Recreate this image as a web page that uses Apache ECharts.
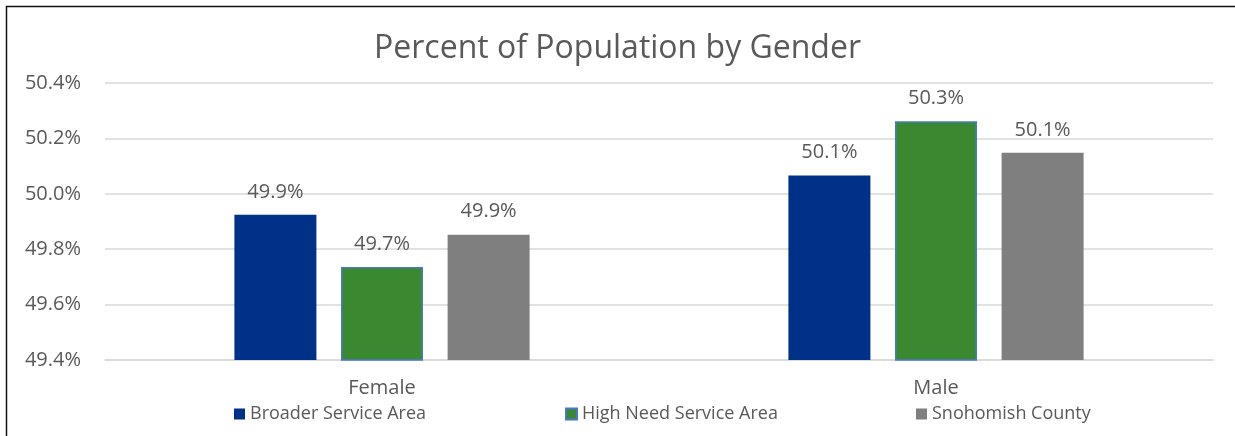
<!DOCTYPE html>
<html lang="en">
<head>
    <meta charset="UTF-8">
    <title>Percent of Population by Gender</title>
    <script src="https://cdn.jsdelivr.net/npm/echarts@6/dist/echarts.min.js"></script>
    <style>
        body { margin: 0; padding: 0; background: #fff; }
        #main { width: 1235px; height: 436px; }
    </style>
</head>
<body>
    <div id="main"></div>
    <script type="text/javascript">
        // data
        var categories = ['Female', 'Male'];
        var seriesNames = ['Broader Service Area', 'High Need Service Area', 'Snohomish County'];
        var broader = [49.924, 50.066];
        var highNeed = [49.736, 50.262];
        var snohomish = [49.852, 50.148];
        var yTicks = { min: 49.4, max: 50.4, step: 0.2 };

        var txt = '#595959';
        var font = 'Open Sans';

        var myChart = echarts.init(document.getElementById('main'));

        function bar(name, data, color, border) {
            return {
                name: name,
                type: 'bar',
                data: data,
                barWidth: 82,
                barGap: '30%',
                itemStyle: {
                    color: color,
                    borderColor: border || color,
                    borderWidth: border ? 1.5 : 0
                },
                label: {
                    show: true,
                    position: 'top',
                    distance: 13,
                    color: txt,
                    fontFamily: font,
                    fontSize: 20,
                    formatter: function (p) { return p.value.toFixed(1) + '%'; }
                }
            };
        }

        // excel spreads the legend items out, so one legend per series
        function legendAt(left, name) {
            return {
                data: [name],
                left: left,
                top: 400,
                itemWidth: 11,
                itemHeight: 11,
                icon: 'rect',
                textStyle: { color: txt, fontFamily: font, fontSize: 18 }
            };
        }

        var option = {
            backgroundColor: '#fff',
            animation: false,
            title: {
                text: 'Percent of Population by Gender',
                left: 'center',
                top: 28,
                textStyle: { color: txt, fontFamily: font, fontSize: 32, fontWeight: 'normal' }
            },
            legend: [
                legendAt(229, seriesNames[0]),
                legendAt(560, seriesNames[1]),
                legendAt(911, seriesNames[2])
            ],
            grid: { left: 105, right: 22, top: 83, bottom: 76 },
            xAxis: {
                type: 'category',
                data: categories,
                axisLine: { lineStyle: { color: '#d9d9d9', width: 1.5 } },
                axisTick: { show: false },
                axisLabel: { color: txt, fontFamily: font, fontSize: 20, margin: 18 }
            },
            yAxis: {
                type: 'value',
                min: yTicks.min,
                max: yTicks.max,
                interval: yTicks.step,
                axisLine: { show: false },
                axisTick: { show: false },
                splitLine: { lineStyle: { color: '#d9d9d9', width: 1.5 } },
                axisLabel: {
                    color: txt,
                    fontFamily: font,
                    fontSize: 20,
                    margin: 24,
                    formatter: function (v) { return v.toFixed(1) + '%'; }
                }
            },
            graphic: [{
                type: 'rect',
                silent: true,
                shape: { x: 6.5, y: 6.5, width: 1260, height: 500 },
                style: { fill: 'none', stroke: '#111', lineWidth: 1.5 }
            }],
            series: [
                bar(seriesNames[0], broader, '#003189'),
                bar(seriesNames[1], highNeed, '#3a8830', '#4a78c8'),
                bar(seriesNames[2], snohomish, '#7f7f7f')
            ]
        };

        myChart.setOption(option);
    </script>
</body>
</html>
